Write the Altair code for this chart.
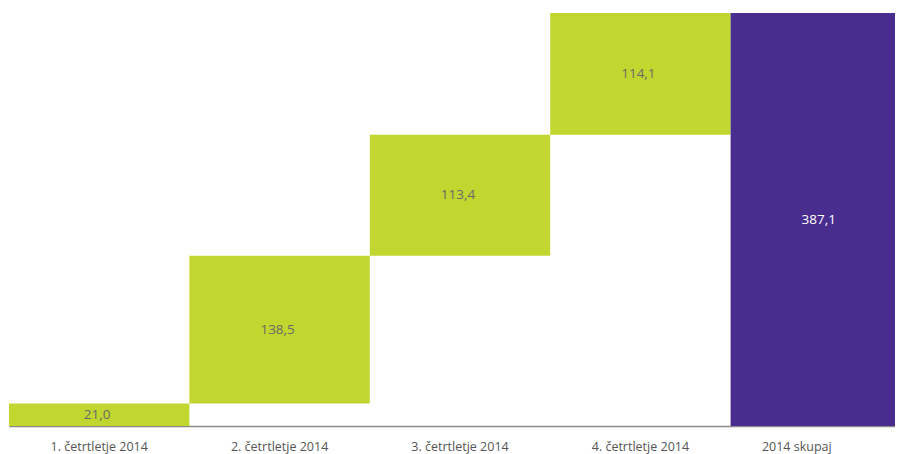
import altair as alt
import pandas as pd

categories = ["1. četrtletje 2014", "2. četrtletje 2014", "3. četrtletje 2014", "4. četrtletje 2014", "2014 skupaj"]
values = [21.0, 138.5, 113.4, 114.1, 387.1]
is_total = [False, False, False, False, True]

rows = []
running = 0.0
for c, v, t in zip(categories, values, is_total):
    if t:
        start, end = 0.0, v
    else:
        start, end = running, running + v
        running = end
    rows.append({
        "cat": c, "start": start, "end": end, "mid": (start + end) / 2,
        "label": f"{v:.1f}".replace(".", ","),
        "kind": "total" if t else "quarter",
    })
df = pd.DataFrame(rows)

x = alt.X("cat:N", sort=categories, title=None,
          scale=alt.Scale(paddingInner=0, paddingOuter=0, range=[0, 902]),
          axis=alt.Axis(labelAngle=0, ticks=False, labelPadding=14,
                        labelFont="Open Sans", labelFontSize=12.5, labelColor="#555555",
                        labelOffset={"condition": {"test": "datum.value == '2014 skupaj'", "value": -24},
                                     "value": 0},
                        domainColor="#8a8a8a", domainWidth=1.5, grid=False))

ysc = alt.Scale(domain=[0, 387.1], nice=False, zero=True)

bars = alt.Chart(df).mark_bar(strokeWidth=0).encode(
    x=x,
    y=alt.Y("start:Q", scale=ysc, axis=None),
    y2="end:Q",
    color=alt.Color("kind:N", scale=alt.Scale(domain=["quarter", "total"], range=["#c1d72f", "#482d8f"]), legend=None),
)

text = alt.Chart(df).mark_text(font="Open Sans", fontSize=13.5, baseline="middle", dx=-2).encode(
    x=alt.X("cat:N", sort=categories),
    y=alt.Y("mid:Q", scale=ysc),
    text="label:N",
    color=alt.Color("kind:N", scale=alt.Scale(domain=["quarter", "total"], range=["#6a6a6a", "#ffffff"]), legend=None),
)

chart = alt.layer(bars, text).resolve_scale(color="independent").properties(
    width=886, height=413,
    padding={"left": 1, "top": 5, "right": 0, "bottom": 32},
    autosize=alt.AutoSizeParams(type="none"),
).configure_view(stroke=None)

chart.save("out.html", embed_options={"renderer": "svg", "actions": False})
